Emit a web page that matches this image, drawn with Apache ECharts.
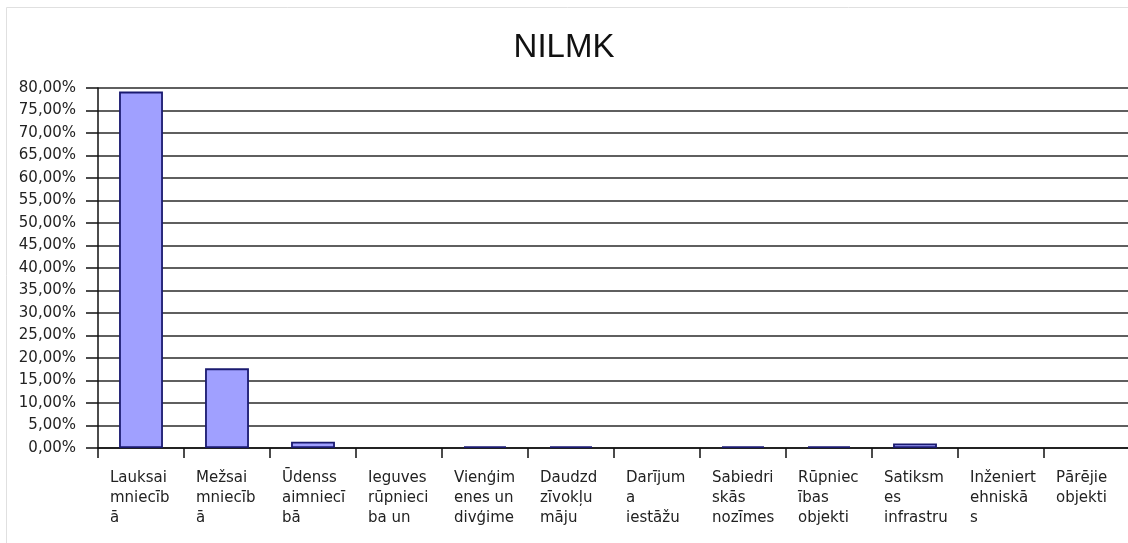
<!DOCTYPE html>
<html><head><meta charset="utf-8">
<script src="https://cdn.jsdelivr.net/npm/echarts@6/dist/echarts.min.js"></script>
<style>html,body{margin:0;padding:0;background:#fff}#c{width:1128px;height:543px}</style>
</head><body><div id="c"></div>
<script>
var titleText = 'NILMK';
var categories = [
  'Lauksai\nmniecīb\nā', 'Mežsai\nmniecīb\nā', 'Ūdenss\naimniecī\nbā', 'Ieguves\nrūpnieci\nba un',
  'Vienģim\nenes un\ndivģime', 'Daudzd\nzīvokļu\nmāju', 'Darījum\na\niestāžu', 'Sabiedri\nskās\nnozīmes',
  'Rūpniec\nības\nobjekti', 'Satiksm\nes\ninfrastru', 'Inženiert\nehniskā\ns', 'Pārējie\nobjekti'
];
var values = [79.2, 17.7, 1.4, 0, 0.4, 0.4, 0, 0.4, 0.4, 1.0, 0, 0];
var yMin = 0, yMax = 80, yStep = 5;

var chart = echarts.init(document.getElementById('c'));
var font = 'DejaVu Sans';
chart.setOption({
  backgroundColor: '#fff',
  animation: false,
  title: {
    text: titleText, left: 'center', top: 26,
    textStyle: {fontFamily: 'Liberation Sans', fontSize: 33, fontWeight: 'normal', color: '#111'}
  },
  graphic: [{type: 'rect', shape: {x: 6.5, y: 7.5, width: 1130, height: 540},
    style: {fill: 'none', stroke: '#e0e0e0', lineWidth: 1}, silent: true, z: -10}],
  grid: {left: 98, right: -2, top: 88, bottom: 95, outerBoundsMode: 'none', containLabel: false},
  xAxis: [{
    type: 'category', data: categories,
    axisLine: {lineStyle: {color: '#111', width: 1.5}},
    axisTick: {show: true, length: 10, lineStyle: {color: '#111', width: 1.5}},
    axisLabel: {show: false}
  }, {
    type: 'category', position: 'bottom', boundaryGap: false,
    data: categories.concat(['']),
    axisLine: {show: false}, axisTick: {show: false},
    axisLabel: {
      show: true, interval: 0, align: 'left', margin: 20,
      padding: [0, 0, 0, 12],
      fontFamily: font, fontSize: 15, lineHeight: 20, color: '#222'
    }
  }],
  yAxis: {
    type: 'value', min: yMin, max: yMax, interval: yStep,
    axisLine: {show: true, lineStyle: {color: '#111', width: 1.5}},
    axisTick: {show: true, length: 12, lineStyle: {color: '#111', width: 1.5}},
    splitLine: {show: true, lineStyle: {color: '#2a2a2a', width: 1.5}},
    axisLabel: {
      margin: 22, fontFamily: font, fontSize: 15, color: '#222',
      formatter: function (v) { return v.toFixed(2).replace('.', ',') + '%'; }
    }
  },
  series: [{
    type: 'bar', xAxisIndex: 0,
    data: values.map(function (v) {
      return v === 0 ? {value: v, itemStyle: {borderWidth: 0, opacity: 0}} : v;
    }),
    barCategoryGap: '49%',
    itemStyle: {color: '#a0a0ff', borderColor: '#1a1a70', borderWidth: 1.8}
  }]
});
</script></body></html>
